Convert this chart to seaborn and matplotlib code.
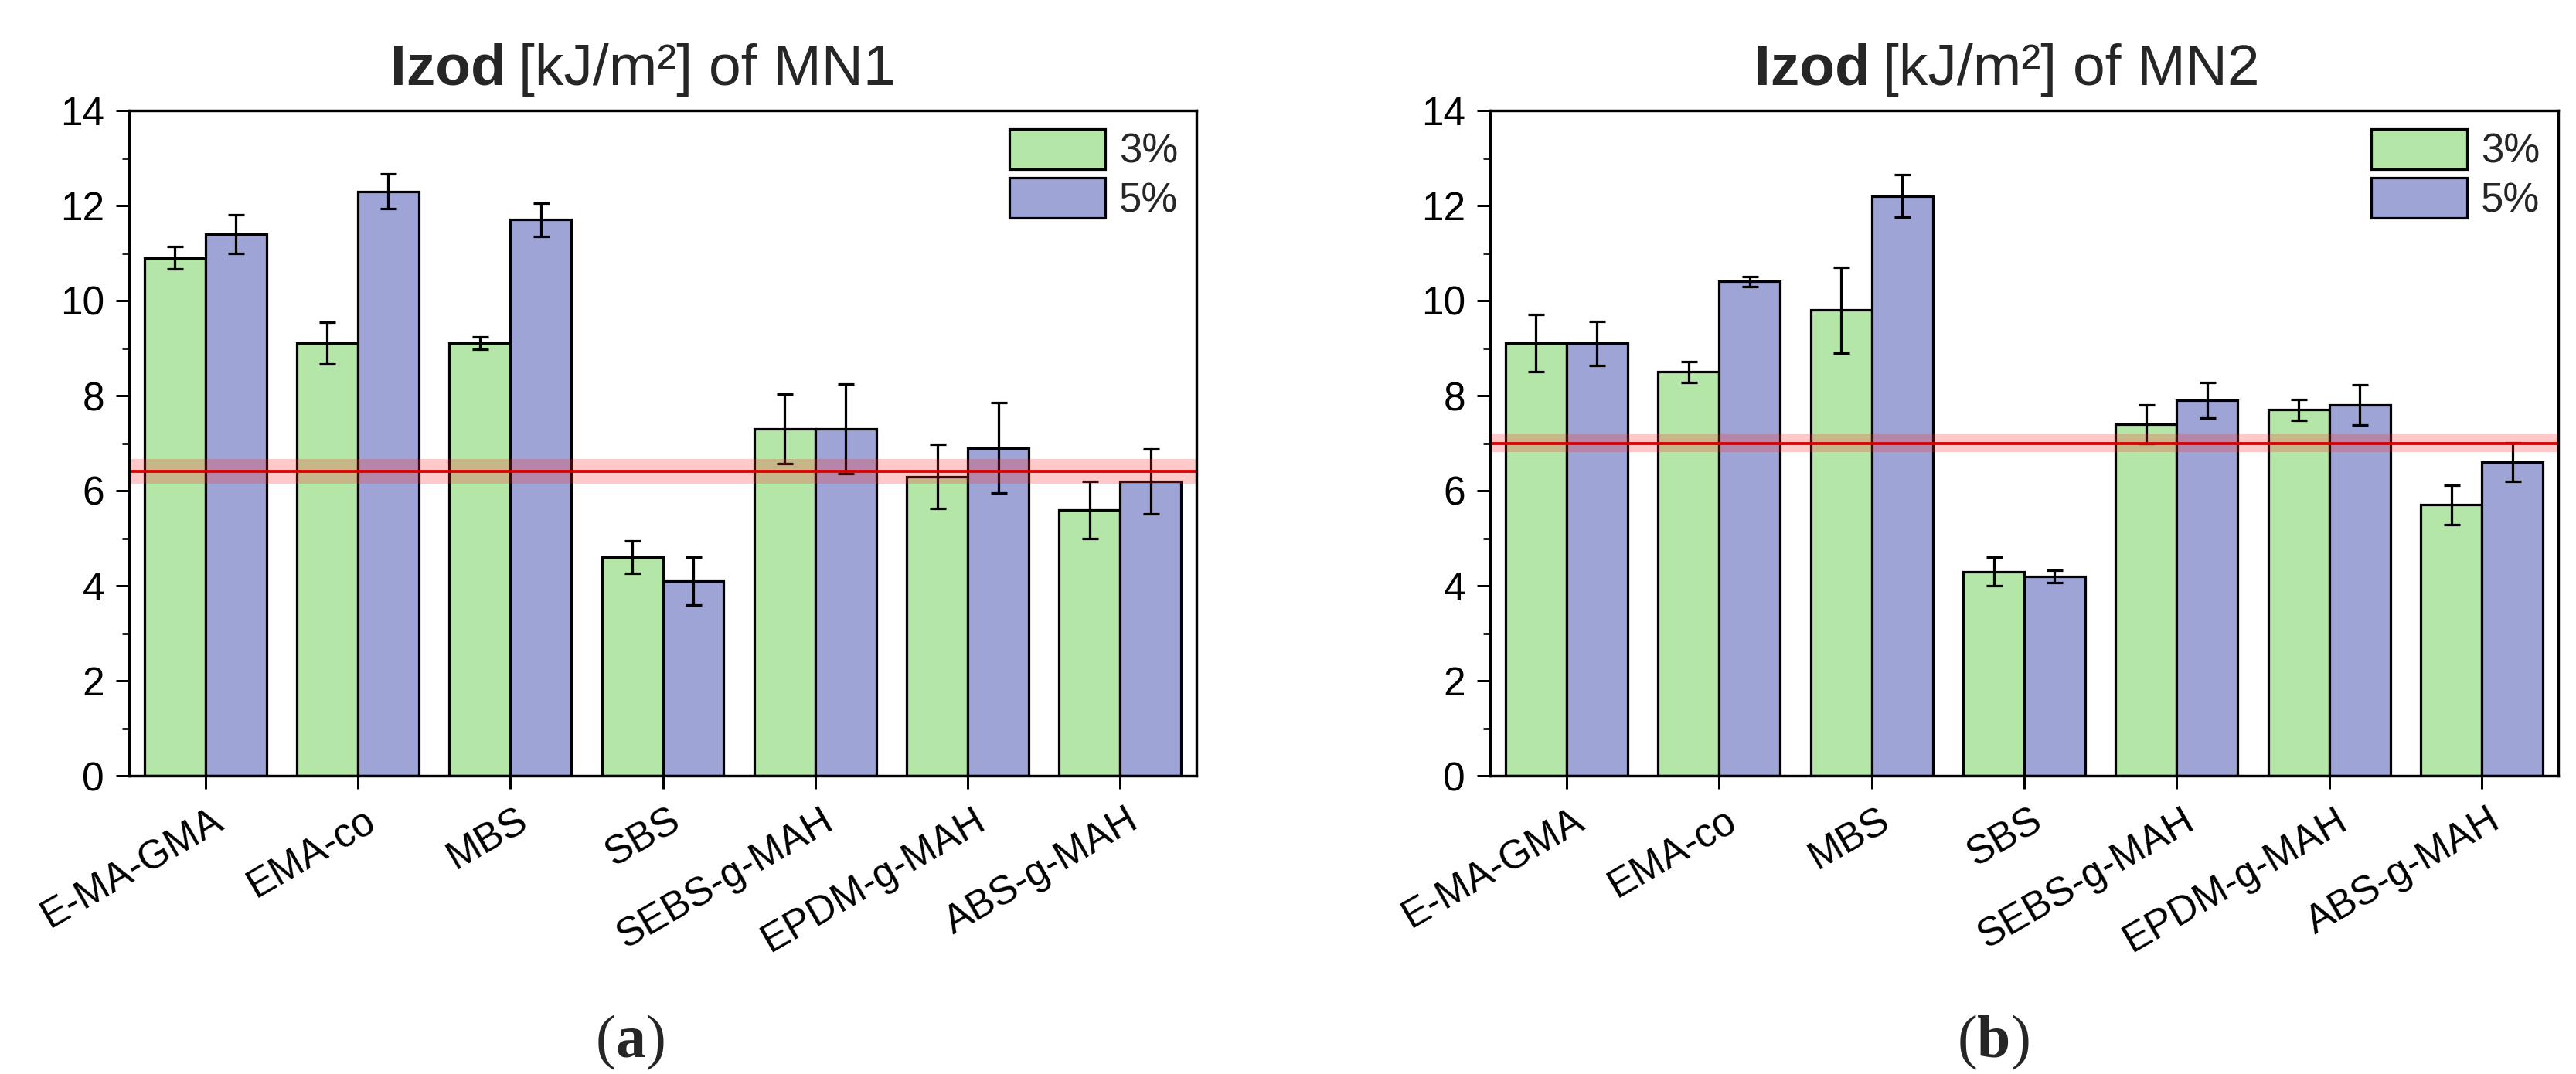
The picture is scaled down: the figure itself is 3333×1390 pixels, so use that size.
import numpy as np
import pandas as pd
import matplotlib
matplotlib.use("Agg")
import matplotlib.pyplot as plt
from matplotlib.ticker import MultipleLocator, NullLocator
from matplotlib.transforms import ScaledTranslation
import seaborn as sns

# ---------------- data ----------------
categories = ["E-MA-GMA", "EMA-co", "MBS", "SBS", "SEBS-g-MAH", "EPDM-g-MAH", "ABS-g-MAH"]
levels = ["3%", "5%"]

mn1_3 = [10.9, 9.1, 9.1, 4.6, 7.3, 6.3, 5.6]
mn1_3_err = [0.24, 0.44, 0.13, 0.34, 0.73, 0.68, 0.60]
mn1_5 = [11.4, 12.3, 11.7, 4.1, 7.3, 6.9, 6.2]
mn1_5_err = [0.40, 0.37, 0.35, 0.50, 0.95, 0.95, 0.68]

mn2_3 = [9.1, 8.5, 9.8, 4.3, 7.4, 7.7, 5.7]
mn2_3_err = [0.60, 0.22, 0.90, 0.30, 0.41, 0.22, 0.42]
mn2_5 = [9.1, 10.4, 12.2, 4.2, 7.9, 7.8, 6.6]
mn2_5_err = [0.46, 0.10, 0.45, 0.13, 0.37, 0.42, 0.41]

ref_mn1, ref_mn1_err = 6.4, 0.26
ref_mn2, ref_mn2_err = 7.0, 0.18

titles = ["MN1", "MN2"]
panel_labels = ["a", "b"]
yticks = [0, 2, 4, 6, 8, 10, 12, 14]

GREEN = "#B4E6A8"
BLUE = "#9EA5D6"
RED = "#dd0000"

# ---------------- style ----------------
sns.set_style("ticks")
plt.rcParams["font.family"] = ["Liberation Sans", "DejaVu Sans"]

W, H = 3333, 1390
DPI = 100
fig = plt.figure(figsize=(W / DPI, H / DPI), dpi=DPI)

def px(v):  # pixels -> points
    return v * 72.0 / DPI

axes_px = [(167, 143, 1548, 1004), (1928, 143, 3310, 1004)]
title_split_px = [655, 2420]
panel_center_px = [816, 2580]

panels = [
    (mn1_3, mn1_3_err, mn1_5, mn1_5_err, ref_mn1, ref_mn1_err),
    (mn2_3, mn2_3_err, mn2_5, mn2_5_err, ref_mn2, ref_mn2_err),
]

LW = px(3.2)

for i, (v3, e3, v5, e5, ref, ref_err) in enumerate(panels):
    x0, y0, x1, y1 = axes_px[i]
    ax = fig.add_axes([x0 / W, 1 - y1 / H, (x1 - x0) / W, (y1 - y0) / H])

    df = pd.DataFrame({
        "cat": categories * 2,
        "conc": [levels[0]] * len(categories) + [levels[1]] * len(categories),
        "val": list(v3) + list(v5),
    })
    sns.barplot(data=df, x="cat", y="val", hue="conc", order=categories,
                hue_order=levels, palette=[GREEN, BLUE], saturation=1,
                edgecolor="black", linewidth=LW, errorbar=None, width=0.8,
                ax=ax, zorder=2)

    # error bars at bar centres
    for cont, err in zip(ax.containers, [e3, e5]):
        xs = [p.get_x() + p.get_width() / 2 for p in cont]
        ys = [p.get_height() for p in cont]
        ax.errorbar(xs, ys, yerr=err, fmt="none", ecolor="black",
                    elinewidth=px(3.2), capsize=px(10.5), capthick=px(3.2), zorder=3)

    # reference line + band
    ax.axhspan(ref - ref_err, ref + ref_err, color="#ff2a2a", alpha=0.25, lw=0, zorder=4)
    ax.axhline(ref, color=RED, lw=px(3.8), zorder=5)

    ax.set_xlim(-0.5, len(categories) - 0.5)
    ax.set_ylim(0, 14)
    ax.set_yticks(yticks)
    ax.set_yticklabels([str(t) for t in yticks])
    ax.yaxis.set_minor_locator(MultipleLocator(1))
    ax.xaxis.set_minor_locator(NullLocator())
    ax.set_xlabel("")
    ax.set_ylabel("")

    for s in ax.spines.values():
        s.set_visible(True)
        s.set_linewidth(px(3.4))
        s.set_color("black")
        s.set_zorder(6)

    ax.tick_params(axis="y", which="major", direction="out", length=px(17), width=px(3),
                   labelsize=37, pad=px(15), left=True, right=False, colors="black")
    ax.tick_params(axis="y", which="minor", direction="out", length=px(9), width=px(3),
                   left=True, right=False)
    ax.tick_params(axis="x", which="major", direction="out", length=px(17), width=px(3),
                   labelsize=37, pad=px(49), bottom=True, top=False, colors="black")

    offset = ScaledTranslation(0.26, 0, fig.dpi_scale_trans)
    for lab in ax.get_xticklabels():
        lab.set_rotation(30)
        lab.set_ha("right")
        lab.set_va("baseline")
        lab.set_rotation_mode("anchor")
        lab.set_transform(lab.get_transform() + offset)

    # legend
    handles, labels = ax.get_legend_handles_labels()
    if ax.get_legend() is not None:
        ax.get_legend().remove()
    leg = ax.legend(handles, labels, loc="upper right", bbox_to_anchor=(1.0, 1.0),
                    frameon=False, fontsize=38, handlelength=2.35, handleheight=1.14,
                    handletextpad=0.35, labelspacing=0.16, borderpad=0.0,
                    borderaxespad=0.45)
    leg.set_zorder(7)

    # title: bold "Izod" + regular rest
    ty = 1 - 110 / H
    sx = title_split_px[i] / W
    fig.text(sx, ty, "Izod", ha="right", va="baseline", fontsize=54, fontweight="bold")
    fig.text(sx + 16 / W, ty, "[kJ/m\u00b2] of " + titles[i], ha="left", va="baseline",
             fontsize=54)

    # panel label "(a)" / "(b)" with bold letter
    cy = 1 - 1368 / H
    t_mid = fig.text(panel_center_px[i] / W, cy, panel_labels[i], ha="center",
                     va="baseline", fontsize=56, fontweight="bold",
                     family=["Liberation Serif", "DejaVu Serif"])
    ax.annotate("(", xy=(0, 0), xycoords=t_mid, ha="right", va="bottom",
                fontsize=56, family=["Liberation Serif", "DejaVu Serif"])
    ax.annotate(")", xy=(1, 0), xycoords=t_mid, ha="left", va="bottom",
                fontsize=56, family=["Liberation Serif", "DejaVu Serif"])

fig.savefig("out.png", dpi=DPI, facecolor="white")
